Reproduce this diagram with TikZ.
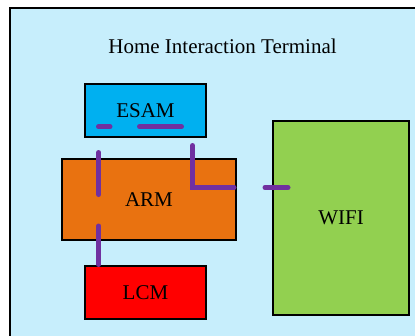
\documentclass[tikz,border=0pt]{standalone}
\usepackage{fontspec}
\setmainfont{Liberation Serif}
\definecolor{panelbg}{RGB}{199,238,252}
\definecolor{esamc}{RGB}{0,176,240}
\definecolor{armc}{RGB}{233,114,16}
\definecolor{lcmc}{RGB}{255,0,0}
\definecolor{wific}{RGB}{146,208,80}
\definecolor{purp}{RGB}{112,48,160}
\tikzset{
  lbl/.style={font=\fontsize{21}{25}\selectfont},
  blk/.style={lbl, draw=black, line width=1.2pt, inner sep=0pt},
  bus/.style={draw=purp, line width=5pt, line cap=round},
}
\begin{document}
\begin{tikzpicture}[x=1pt,y=-1pt]
\useasboundingbox (0,0) rectangle (415,335);
\clip (0,0) rectangle (415,335);
\fill[white] (0,0) rectangle (415,335);
\draw[draw=black, line width=1.8pt, fill=panelbg] (10,8) rectangle (430,350);
\node[lbl] (title) at (222.5,46) {Home Interaction Terminal};
\node[blk, fill=esamc, minimum width=121pt, minimum height=53pt] (esam) at (145.5,110.5) {ESAM};
\node[blk, fill=armc, minimum width=174pt, minimum height=81pt] (arm) at (149,199.5) {ARM};
\node[blk, fill=lcmc, minimum width=121pt, minimum height=53pt] (lcm) at (145.5,292.5) {LCM};
\node[blk, fill=wific, minimum width=136pt, minimum height=194pt] (wifi) at (341,218) {WIFI};
% purple dashed bus segments
\coordinate (e1) at (98.5,126.7);
\coordinate (e2) at (110,126.7);
\coordinate (e3) at (139.5,126.7);
\coordinate (e4) at (181.5,126.7);
\coordinate (v1) at (98.7,152.5);
\coordinate (v2) at (98.7,194.5);
\coordinate (v3) at (98.7,226);
\coordinate (v4) at (98.7,264.5);
\coordinate (c1) at (192.5,145.5);
\coordinate (c2) at (192.5,187.5);
\coordinate (c3) at (234,187.5);
\coordinate (w1) at (265,187.5);
\coordinate (w2) at (288,187.5);
\draw[bus] (e1) -- (e2);
\draw[bus] (e3) -- (e4);
\draw[bus] (v1) -- (v2);
\draw[bus] (v3) -- (v4);
\draw[bus] (c1) -- (c2) -- (c3);
\draw[bus] (w1) -- (w2);
\end{tikzpicture}
\end{document}
